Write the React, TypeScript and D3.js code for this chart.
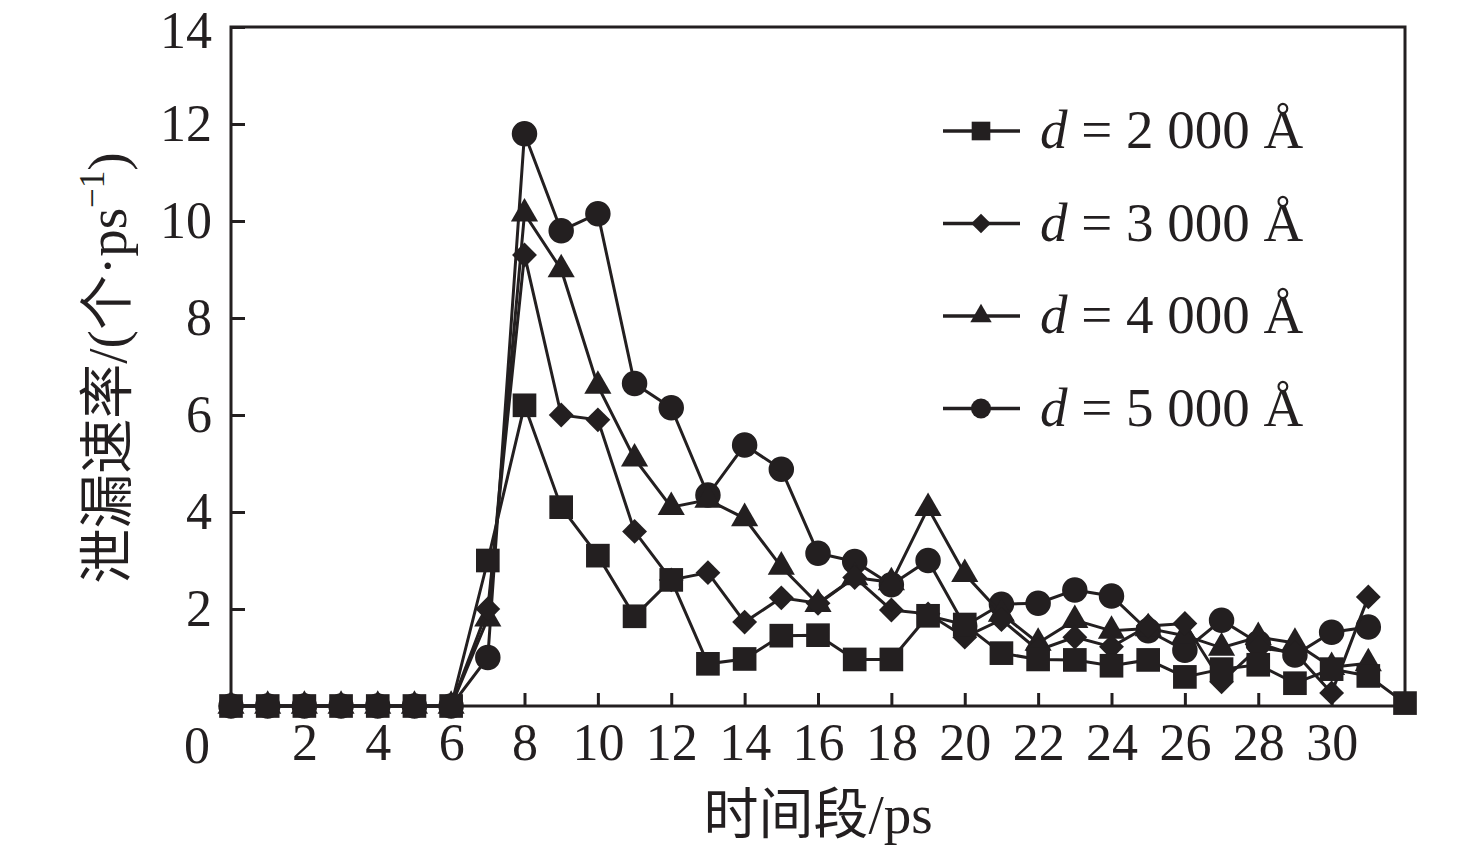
import { useEffect, useRef } from "react"
import * as d3 from "d3"

// time segment index (ps)
const timePoints = [0, 1, 2, 3, 4, 5, 6, 7, 8, 9, 10, 11, 12, 13, 14, 15, 16, 17, 18, 19, 20, 21, 22, 23, 24, 25, 26, 27, 28, 29, 30, 31, 32]

// leak rate per series
const rate2000 = [0, 0, 0, 0, 0, 0, 0, 3.0, 6.2, 4.1, 3.1, 1.85, 2.6, 0.87, 0.97, 1.45, 1.46, 0.96, 0.96, 1.86, 1.68, 1.09, 0.96, 0.95, 0.83, 0.95, 0.6, 0.76, 0.85, 0.47, 0.76, 0.62, 0.06]
const rate3000 = [0, 0, 0, 0, 0, 0, 0, 2.0, 9.3, 6.0, 5.9, 3.6, 2.6, 2.75, 1.73, 2.23, 2.12, 2.65, 1.98, 1.9, 1.42, 1.78, 1.15, 1.42, 1.22, 1.65, 1.7, 0.5, 1.2, 1.1, 0.27, 2.25]
const rate4000 = [0, 0, 0, 0, 0, 0, 0, 1.8, 10.15, 9.0, 6.6, 5.1, 4.1, 4.25, 3.87, 2.87, 2.1, 2.65, 2.55, 4.08, 2.72, 1.9, 1.3, 1.77, 1.55, 1.6, 1.45, 1.2, 1.42, 1.3, 0.8, 0.88]
const rate5000 = [0, 0, 0, 0, 0, 0, 0, 1.0, 11.8, 9.8, 10.15, 6.65, 6.15, 4.35, 5.38, 4.88, 3.15, 2.98, 2.5, 3.0, 1.65, 2.1, 2.12, 2.39, 2.27, 1.55, 1.15, 1.77, 1.3, 1.05, 1.52, 1.63]

const seriesLabels = ["2 000 Å", "3 000 Å", "4 000 Å", "5 000 Å"]
const seriesShapes = ["square", "diamond", "triangle", "circle"]
const seriesValues = [rate2000, rate3000, rate4000, rate5000]

const xTicks = [2, 4, 6, 8, 10, 12, 14, 16, 18, 20, 22, 24, 26, 28, 30]
const yTicks = [2, 4, 6, 8, 10, 12, 14]

const INK = "#231f20"
const LATIN = "'Liberation Serif', 'Times New Roman', 'Noto Sans CJK SC', serif"

function markerPath(shape: string, scale: number) {
  if (shape === "square") return d3.symbol(d3.symbolSquare, 560 * scale)()
  if (shape === "diamond") return d3.symbol(d3.symbolSquare, 310 * scale)()
  if (shape === "triangle") return d3.symbol(d3.symbolTriangle, 320 * scale)()
  return d3.symbol(d3.symbolCircle, 510 * scale)()
}

export default function App() {
  const svgRef = useRef<SVGSVGElement>(null)

  useEffect(() => {
    if (!svgRef.current) return
    const svg = d3.select(svgRef.current)
    svg.selectAll("*").remove()

    const x = d3.scaleLinear().domain([0, 32]).range([231, 1405])
    const y = d3.scaleLinear().domain([0, 14]).range([706, 27])

    // axes
    const xAxis = svg.append("g")
      .attr("transform", `translate(0,${y(0)})`)
      .call(d3.axisBottom(x).tickValues(xTicks).tickSizeInner(-13).tickSizeOuter(0).tickPadding(17))
    const yAxis = svg.append("g")
      .attr("transform", `translate(${x(0)},0)`)
      .call(d3.axisLeft(y).tickValues(yTicks).tickSizeInner(-14).tickSizeOuter(0).tickPadding(19))

    for (const ax of [xAxis, yAxis]) {
      ax.select(".domain").remove()
      ax.selectAll("line").attr("stroke", INK).attr("stroke-width", 3)
      ax.selectAll("text")
        .attr("fill", INK)
        .style("font-family", LATIN)
        .style("font-size", "52px")
    }
    // keep the top label inside the page
    yAxis.selectAll<SVGTextElement, number>("text")
      .filter(d => d === 14)
      .attr("dy", "0.4em")

    // origin label
    svg.append("text")
      .attr("x", 197).attr("y", 763)
      .attr("text-anchor", "middle")
      .attr("fill", INK)
      .style("font-family", LATIN)
      .style("font-size", "52px")
      .text("0")

    // frame
    svg.append("rect")
      .attr("x", x(0)).attr("y", y(14))
      .attr("width", x(32) - x(0)).attr("height", y(0) - y(14))
      .attr("fill", "none")
      .attr("stroke", INK)
      .attr("stroke-width", 3)

    // series, drawn back to front
    const line = d3.line<number>()
      .x((_, i) => x(timePoints[i]))
      .y(d => y(d))

    for (let s = seriesValues.length - 1; s >= 0; s--) {
      const values = seriesValues[s]
      svg.append("path")
        .datum(values)
        .attr("fill", "none")
        .attr("stroke", INK)
        .attr("stroke-width", 3)
        .attr("d", line)

      svg.append("g")
        .selectAll("path")
        .data(values)
        .enter()
        .append("path")
        .attr("d", markerPath(seriesShapes[s], 1))
        .attr("transform", (d, i) => `translate(${x(timePoints[i])},${y(d)})${seriesShapes[s] === "diamond" ? " rotate(45)" : ""}`)
        .attr("fill", INK)
    }

    // legend
    const legend = svg.append("g")
    seriesLabels.forEach((label, i) => {
      const cy = 131 + i * 92.5
      legend.append("line")
        .attr("x1", 943).attr("x2", 1020)
        .attr("y1", cy).attr("y2", cy)
        .attr("stroke", INK)
        .attr("stroke-width", 3.5)
      legend.append("path")
        .attr("d", markerPath(seriesShapes[i], 0.62))
        .attr("transform", `translate(981,${cy})${seriesShapes[i] === "diamond" ? " rotate(45)" : ""}`)
        .attr("fill", INK)
      const t = legend.append("text")
        .attr("x", 1040).attr("y", cy + 17)
        .attr("fill", INK)
        .style("font-family", LATIN)
        .style("font-size", "55px")
      t.append("tspan").style("font-style", "italic").text("d")
      t.append("tspan").text(` = ${label}`)
    })

    // axis titles
    svg.append("text")
      .attr("x", 818).attr("y", 833)
      .attr("text-anchor", "middle")
      .attr("fill", INK)
      .style("font-family", LATIN)
      .style("font-size", "55px")
      .text("时间段/ps")

    const yTitle = svg.append("text")
      .attr("transform", "translate(126,368) rotate(-90)")
      .attr("text-anchor", "middle")
      .attr("fill", INK)
      .style("font-family", LATIN)
      .style("font-size", "55px")
    yTitle.append("tspan").text("泄漏速率/(个·ps")
    yTitle.append("tspan").attr("dy", -22).style("font-size", "35px").text("−1")
    yTitle.append("tspan").attr("dy", 22).text(")")
  }, [])

  return (
    <svg
      ref={svgRef}
      width={1476}
      height={850}
      style={{ position: "absolute", left: 0, top: 0, background: "#fff" }}
    />
  )
}
